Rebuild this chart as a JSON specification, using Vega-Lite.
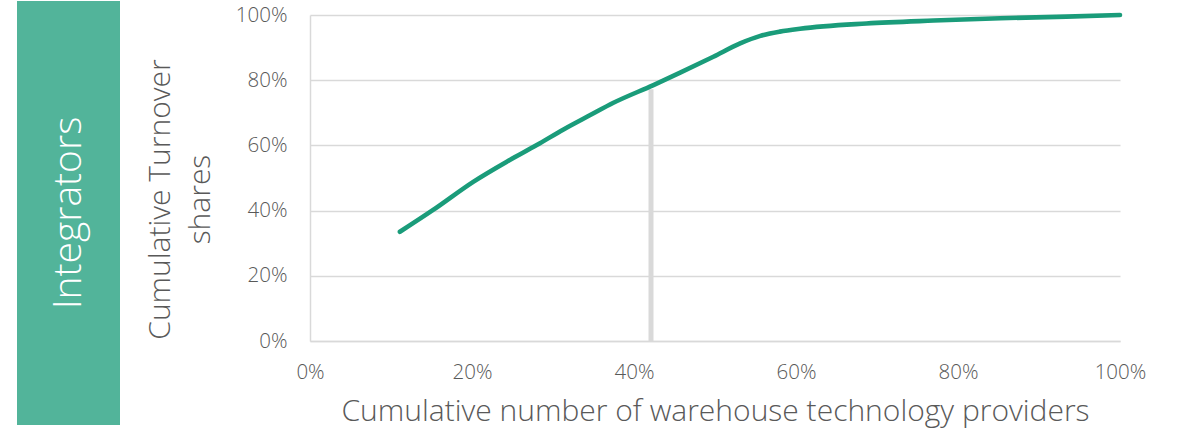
{
  "$schema": "https://vega.github.io/schema/vega-lite/v6.json",
  "padding": {"left": 17, "top": 1, "right": 0, "bottom": 10},
  "autosize": {"type": "pad"},
  "background": "white",
  "config": {
    "view": {"stroke": null},
    "font": "Open Sans"
  },
  "spacing": 25,
  "datasets": {
    "curve": [
      {"providers": 0.111, "turnover": 0.335},
      {"providers": 0.152, "turnover": 0.402},
      {"providers": 0.202, "turnover": 0.489},
      {"providers": 0.243, "turnover": 0.55},
      {"providers": 0.28, "turnover": 0.601},
      {"providers": 0.313, "turnover": 0.649},
      {"providers": 0.346, "turnover": 0.693},
      {"providers": 0.374, "turnover": 0.73},
      {"providers": 0.424, "turnover": 0.785},
      {"providers": 0.457, "turnover": 0.823},
      {"providers": 0.498, "turnover": 0.872},
      {"providers": 0.531, "turnover": 0.913},
      {"providers": 0.556, "turnover": 0.936},
      {"providers": 0.58, "turnover": 0.949},
      {"providers": 0.605, "turnover": 0.958},
      {"providers": 0.687, "turnover": 0.974},
      {"providers": 0.77, "turnover": 0.983},
      {"providers": 0.852, "turnover": 0.99},
      {"providers": 0.934, "turnover": 0.995},
      {"providers": 1.0, "turnover": 1.0}
    ],
    "marker": [
      {"providers": 0.421, "turnover": 0.772}
    ],
    "label": [
      {"segment": "Integrators"}
    ],
    "blank": [
      {}
    ]
  },
  "hconcat": [
    {
      "width": 103,
      "height": 424,
      "view": {"fill": "#52b49a", "stroke": null},
      "data": {"name": "label"},
      "mark": {"type": "text", "angle": 270, "color": "white", "fontSize": 39, "fontWeight": 300, "font": "Open Sans", "align": "center", "baseline": "middle"},
      "encoding": {
        "text": {"field": "segment"}
      }
    },
    {
      "spacing": 3,
      "vconcat": [
        {
          "width": 810,
          "height": 1,
          "data": {"name": "blank"},
          "mark": {"type": "rect", "opacity": 0},
          "encoding": {}
        },
        {
          "width": 810,
          "height": 326,
          "layer": [
            {
              "data": {"name": "marker"},
              "mark": {"type": "rule", "color": "#d9d9d9", "strokeWidth": 5},
              "encoding": {
                "x": {"field": "providers", "type": "quantitative", "scale": {"domain": [0, 1]}},
                "y": {"field": "turnover", "type": "quantitative", "scale": {"domain": [0, 1]}},
                "y2": {"datum": 0}
              }
            },
            {
              "data": {"name": "curve"},
              "mark": {"type": "line", "color": "#1a9c7a", "strokeWidth": 4.6, "interpolate": "monotone", "strokeCap": "round"},
              "encoding": {
                "x": {
                  "field": "providers", "type": "quantitative",
                  "scale": {"domain": [0, 1]},
                  "axis": {
                    "title": "Cumulative number of warehouse technology providers",
                    "format": ".0%", "values": [0, 0.2, 0.4, 0.6, 0.8, 1],
                    "grid": false, "ticks": false, "labelFlush": false,
                    "domainColor": "#d9d9d9", "domainWidth": 1.5,
                    "labelFontSize": 20.5, "labelColor": "#595959", "labelPadding": 21, "labelFont": "Open Sans", "labelFontWeight": 300,
                    "titleFontSize": 30, "titleColor": "#595959", "titlePadding": 14, "titleFont": "Open Sans", "titleFontWeight": 300
                  }
                },
                "y": {
                  "field": "turnover", "type": "quantitative",
                  "scale": {"domain": [0, 1]},
                  "axis": {
                    "title": ["Cumulative Turnover", "shares"],
                    "format": ".0%", "values": [0, 0.2, 0.4, 0.6, 0.8, 1],
                    "grid": true, "gridColor": "#d9d9d9", "gridWidth": 1.5,
                    "ticks": false,
                    "domainColor": "#d9d9d9", "domainWidth": 1.5,
                    "labelFontSize": 20.5, "labelColor": "#595959", "labelPadding": 23, "labelFont": "Open Sans", "labelFontWeight": 300,
                    "titleFontSize": 30, "titleColor": "#595959", "titleFont": "Open Sans", "titleFontWeight": 300,
                    "titleAngle": 270, "titleAlign": "center", "titleBaseline": "middle",
                    "titleX": -150, "titleY": 184, "titleLineHeight": 40
                  }
                }
              }
            }
          ]
        }
      ]
    }
  ]
}
